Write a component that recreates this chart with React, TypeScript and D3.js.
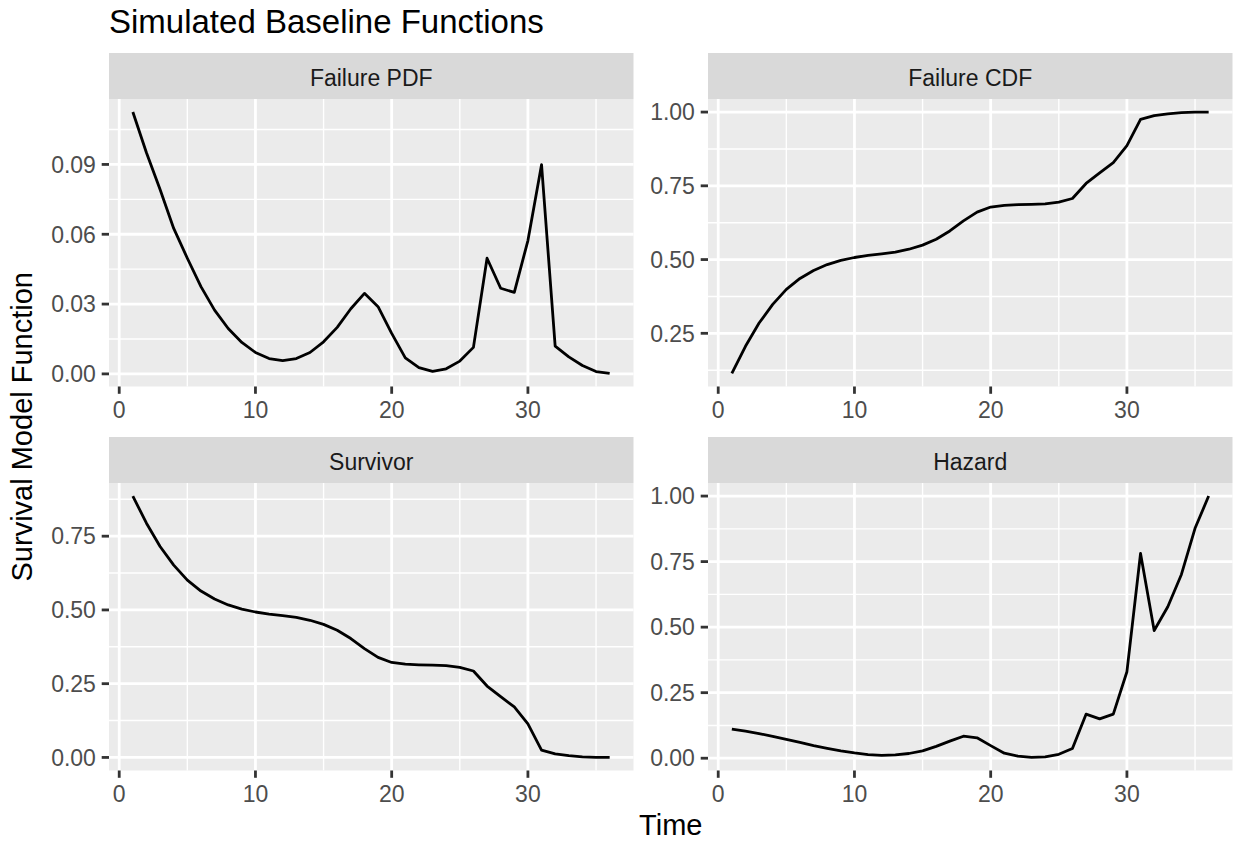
import React from 'react';
import * as d3 from 'd3';

const time = [1,2,3,4,5,6,7,8,9,10,11,12,13,14,15,16,17,18,19,20,21,22,23,24,25,26,27,28,29,30,31,32,33,34,35,36];
const failurePdf = [0.1125,0.095,0.0792,0.0625,0.0497,0.0375,0.0274,0.0195,0.0135,0.0092,0.0066,0.0057,0.0066,0.0092,0.0138,0.02,0.028,0.0346,0.0289,0.0174,0.0069,0.0027,0.0011,0.0022,0.0055,0.0114,0.0497,0.0368,0.035,0.0573,0.0899,0.0119,0.0073,0.0036,0.001,0.0002];
const failureCdf = [0.114,0.206,0.285,0.348,0.399,0.436,0.463,0.483,0.497,0.507,0.514,0.519,0.525,0.535,0.549,0.569,0.597,0.631,0.661,0.678,0.684,0.686,0.687,0.689,0.695,0.707,0.758,0.794,0.829,0.886,0.975,0.988,0.994,0.998,0.9995,1.0];
const survivor = [0.886,0.794,0.715,0.652,0.601,0.564,0.537,0.517,0.503,0.493,0.486,0.481,0.475,0.465,0.451,0.431,0.403,0.369,0.339,0.322,0.316,0.314,0.313,0.311,0.305,0.293,0.242,0.206,0.171,0.114,0.025,0.012,0.006,0.002,0.0005,0.0];
const hazard = [0.111,0.103,0.094,0.083,0.072,0.06,0.048,0.038,0.028,0.02,0.014,0.011,0.013,0.018,0.028,0.045,0.065,0.084,0.078,0.048,0.019,0.008,0.003,0.005,0.015,0.037,0.168,0.15,0.168,0.33,0.781,0.487,0.578,0.701,0.877,1.0];

const facetTitles = ['Failure PDF', 'Failure CDF', 'Survivor', 'Hazard'];
const pdfTicks = [0, 0.03, 0.06, 0.09];
const cdfTicks = [0.25, 0.5, 0.75, 1.0];
const survTicks = [0, 0.25, 0.5, 0.75];
const hazTicks = [0, 0.25, 0.5, 0.75, 1.0];
const xTicks = [0, 10, 20, 30];

const chartTitle = 'Simulated Baseline Functions';
const xTitle = 'Time';
const yTitle = 'Survival Model Function';

const FONT = '"Liberation Sans", Arial, Helvetica, sans-serif';
const W = 1239;
const H = 841;
const COLS = [[109, 633.5], [708, 1232.5]];
const STRIP_TOPS = [53, 437];
const STRIP_H = 46;
const PANEL_H = 287.5;
const TICK = 7.3;
const GRID_MAJ = 2.8;
const GRID_MIN = 1.4;

function expand(vals: number[]): [number, number] {
  const [lo, hi] = d3.extent(vals) as [number, number];
  const pad = (hi - lo) * 0.05;
  return [lo - pad, hi + pad];
}

function minors(major: number[], domain: [number, number]) {
  const step = major[1] - major[0];
  const out: number[] = [];
  const all = [major[0] - step, ...major, major[major.length - 1] + step];
  for (let i = 0; i < all.length - 1; i++) {
    const m = (all[i] + all[i + 1]) / 2;
    if (m >= domain[0] && m <= domain[1]) out.push(m);
  }
  return out;
}

type PanelProps = { col: number; row: number; title: string; values: number[]; yTicks: number[] };

function Panel({ col, row, title, values, yTicks }: PanelProps) {
  const [x0, x1] = COLS[col];
  const stripTop = STRIP_TOPS[row];
  const top = stripTop + STRIP_H;
  const bottom = top + PANEL_H;
  const xDom = expand(time);
  const yDom = expand(values);
  const x = d3.scaleLinear().domain(xDom).range([x0, x1]);
  const y = d3.scaleLinear().domain(yDom).range([bottom, top]);
  const line = d3.line<number>().x((_, i) => x(time[i])).y((d) => y(d));
  const fmt = d3.format('.2f');
  const xMin = minors(xTicks, xDom);
  const yMin = minors(yTicks, yDom);
  return (
    <g>
      <rect x={x0} y={top} width={x1 - x0} height={PANEL_H} fill="#EBEBEB" />
      {yMin.map((v, i) => (
        <line key={'ym' + i} x1={x0} x2={x1} y1={y(v)} y2={y(v)} stroke="#fff" strokeWidth={GRID_MIN} />
      ))}
      {xMin.map((v, i) => (
        <line key={'xm' + i} x1={x(v)} x2={x(v)} y1={top} y2={bottom} stroke="#fff" strokeWidth={GRID_MIN} />
      ))}
      {yTicks.map((v, i) => (
        <line key={'yM' + i} x1={x0} x2={x1} y1={y(v)} y2={y(v)} stroke="#fff" strokeWidth={GRID_MAJ} />
      ))}
      {xTicks.map((v, i) => (
        <line key={'xM' + i} x1={x(v)} x2={x(v)} y1={top} y2={bottom} stroke="#fff" strokeWidth={GRID_MAJ} />
      ))}
      <path d={line(values) || ''} fill="none" stroke="#000" strokeWidth={2.8} strokeLinejoin="round" strokeLinecap="butt" />
      <rect x={x0} y={stripTop} width={x1 - x0} height={STRIP_H} fill="#D9D9D9" />
      <text x={(x0 + x1) / 2} y={stripTop + 32.5} textAnchor="middle" fontSize={23} fill="#1A1A1A" fontFamily={FONT}>{title}</text>
      {yTicks.map((v, i) => (
        <g key={'yt' + i}>
          <line x1={x0 - TICK} x2={x0} y1={y(v)} y2={y(v)} stroke="#333" strokeWidth={GRID_MAJ} />
          <text x={x0 - TICK - 5.8} y={y(v)} dy="0.36em" textAnchor="end" fontSize={23} fill="#4D4D4D" fontFamily={FONT}>{fmt(v)}</text>
        </g>
      ))}
      {xTicks.map((v, i) => (
        <g key={'xt' + i}>
          <line x1={x(v)} x2={x(v)} y1={bottom} y2={bottom + TICK} stroke="#333" strokeWidth={GRID_MAJ} />
          <text x={x(v)} y={bottom + 31.5} textAnchor="middle" fontSize={23} fill="#4D4D4D" fontFamily={FONT}>{v}</text>
        </g>
      ))}
    </g>
  );
}

export default function App() {
  const panels = [
    { col: 0, row: 0, title: facetTitles[0], values: failurePdf, yTicks: pdfTicks },
    { col: 1, row: 0, title: facetTitles[1], values: failureCdf, yTicks: cdfTicks },
    { col: 0, row: 1, title: facetTitles[2], values: survivor, yTicks: survTicks },
    { col: 1, row: 1, title: facetTitles[3], values: hazard, yTicks: hazTicks },
  ];
  const yMid = (STRIP_TOPS[0] + STRIP_TOPS[1] + STRIP_H + PANEL_H + 30) / 2;
  return (
    <svg width={W} height={H} style={{ position: 'absolute', left: 0, top: 0, display: 'block', background: '#fff' }}>
      <rect x={0} y={0} width={W} height={H} fill="#fff" />
      <text x={109} y={33} fontSize={33} fill="#000" fontFamily={FONT}>{chartTitle}</text>
      {panels.map((p, i) => <Panel key={i} {...p} />)}
      <text x={(COLS[0][0] + COLS[1][1]) / 2} y={835} textAnchor="middle" fontSize={29} fill="#000" fontFamily={FONT}>{xTitle}</text>
      <text transform={`translate(32, ${yMid}) rotate(-90)`} textAnchor="middle" fontSize={29} fill="#000" fontFamily={FONT}>{yTitle}</text>
    </svg>
  );
}
